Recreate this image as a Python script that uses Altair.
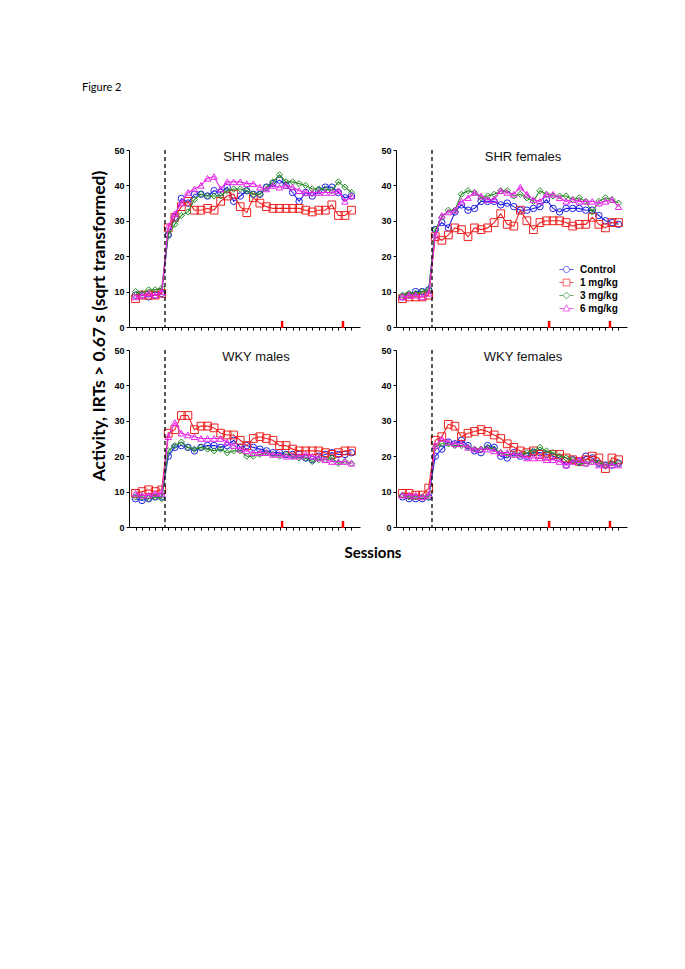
import altair as alt
import pandas as pd

sessions = list(range(1, 35))
series_names = ["Control", "1 mg/kg", "3 mg/kg", "6 mg/kg"]
series_colors = ["#1f1fe6", "#ee2222", "#2a8c2a", "#e825e8"]
series_shapes = ["circle", "square", "diamond", "triangle-up"]
series_sizes = [42, 60, 38, 42]
legend_paths = [
    "M-1.2,0H-0.52M0.52,0H1.2M-0.52,0A0.52,0.52,0,1,1,0.52,0A0.52,0.52,0,1,1,-0.52,0",
    "M-1.2,0H-0.57M0.57,0H1.2M-0.57,-0.57H0.57V0.57H-0.57Z",
    "M-1.2,0H-0.57M0.57,0H1.2M-0.57,0L0,-0.57L0.57,0L0,0.57Z",
    "M-1.2,0H-0.34M0.34,0H1.2M0,-0.62L0.57,0.42H-0.57Z",
]
panel_titles = ["SHR males", "SHR females", "WKY males", "WKY females"]
phase_change = [5.5]
marker_sessions = [23.4, 32.7]
y_ticks = [0, 10, 20, 30, 40, 50]

# SHR males
shr_m_control = [9, 9, 8.5, 9, 9.5, 26, 31, 36.3, 35, 37.5, 37.5, 37, 38.5, 38, 39.5, 35.5, 37, 38.5,
                 37.5, 37.5, 39.5, 40.5, 41.5, 40, 38, 35.5, 38, 37, 38.5, 39.5, 39.5, 38, 36.5, 37]
shr_m_1 = [8, 9, 9, 9, 9.5, 28, 31, 34, 35.5, 33, 33, 33.5, 33, 35.5, 37, 37.5, 34, 32.3,
           36.5, 35, 34, 33.5, 33.5, 33.5, 33.5, 33.5, 33, 32.5, 33, 33, 34.5, 31.5, 31.5, 33]
shr_m_3 = [10, 9.5, 10.5, 10.5, 11, 26, 29, 31.5, 32.5, 36, 37.5, 37, 37, 37, 38.5, 39, 39, 38.5,
           37.5, 37.5, 39.5, 41, 43, 41, 41, 40.5, 40, 39, 39, 39, 38.5, 41, 39.5, 38]
shr_m_6 = [8.5, 9, 9.5, 9, 10, 28.5, 32, 35, 38, 39, 40, 42, 42.5, 39, 41, 41, 41, 40.5,
           40.5, 39.5, 39, 40, 39.5, 40, 39.5, 38.5, 38, 38, 38, 38, 38, 38.5, 35.5, 37]

# SHR females
shr_f_control = [8.5, 9, 10, 10, 10.5, 27.5, 29.5, 28, 32.5, 34.5, 33, 33.5, 35.5, 35.5, 35.5, 34.5,
                 35, 34, 33, 33, 33.5, 34, 36, 33.5, 32.5, 33.5, 33.5, 33.5, 33, 33, 31.5, 30, 29.5, 29]
shr_f_1 = [8, 8.5, 8.5, 8.5, 9, 25.5, 24.5, 26, 28, 27.5, 25.5, 28, 27.5, 28, 29.5, 32, 29, 28.5,
           33, 30, 27.5, 29.5, 30, 30, 30, 29.5, 28.5, 29, 29, 31, 29, 28, 29.5, 29.5]
shr_f_3 = [9, 9.5, 9.5, 10, 10.5, 27.5, 31, 33, 33, 37.5, 38.5, 38, 36.5, 37, 37.5, 38.5, 38.5, 37,
           37.5, 36.5, 35.5, 38.5, 37.5, 37, 37, 37, 36, 36.5, 35.5, 32.5, 35.5, 36.5, 36, 35]
shr_f_6 = [8.5, 9, 9, 8.5, 9.5, 26, 31.5, 32.5, 33, 35.5, 36.5, 38, 37, 36, 36, 38.5, 38, 37.5,
           39.5, 37.5, 36, 35.5, 37.5, 37.5, 36.5, 35.5, 36, 35.5, 35.5, 35.5, 35, 35.5, 36, 34]

# WKY males
wky_m_control = [8, 7.5, 8, 8.5, 8.5, 20, 22.5, 23, 22.5, 21.5, 22.5, 23, 23, 22.5, 23, 24.5, 22.5, 23,
                 22.5, 22, 21.5, 21, 21, 20.5, 20.5, 20.5, 19.5, 19, 20, 20.5, 21, 20.5, 20.5, 21]
wky_m_1 = [9.5, 10, 10.5, 10, 10.5, 26.5, 27.5, 31.5, 31.5, 27.5, 28.5, 28.5, 28, 26.5, 26, 26, 24.5, 23,
           25, 25.5, 25, 24.5, 23, 23, 22, 21.5, 21.5, 21.5, 21.5, 21, 20.5, 21, 21.5, 21.5]
wky_m_3 = [8.5, 8.5, 8, 8.5, 8, 21.5, 23, 24, 22.5, 22, 22.5, 22, 21.5, 22, 21, 21.5, 21.5, 20,
           20, 20.5, 21, 20.5, 20, 20.5, 20, 19.5, 19.5, 18.5, 19, 19, 19.5, 18, 18.5, 18]
wky_m_6 = [9.5, 9, 9, 9.5, 9.5, 25.5, 29.5, 26.5, 26, 25.5, 25, 25, 25, 25, 24, 23, 22, 21.5,
           21, 21, 21, 20.5, 20.5, 20, 20, 20, 20.5, 20, 19.5, 19, 18.5, 18.5, 18.5, 18]

# WKY females
wky_f_control = [8.5, 8, 8, 8, 8.5, 20, 22, 24, 23.5, 24.5, 23, 21.5, 21, 23, 22.5, 20, 19.5, 21,
                 20, 20, 21, 21, 20.5, 20, 19.5, 17.5, 19, 18.5, 20, 19.5, 18, 17.5, 17.5, 18]
wky_f_1 = [9.5, 9.5, 9, 9, 11, 24.5, 25.5, 29, 28.5, 25.5, 26.5, 27, 27.5, 27, 26, 25, 23.5, 22.5,
           21.5, 21, 21.5, 20.5, 20, 20.5, 20.5, 19.5, 19, 18.5, 19, 20, 19.5, 16.5, 19.5, 19]
wky_f_3 = [9, 8.5, 8.5, 8.5, 8.5, 22.5, 23.5, 23.5, 23, 23, 22.5, 22, 22, 22.5, 22, 21, 20.5, 20.5,
           20.5, 21, 21.5, 22.5, 21.5, 21, 20, 19.5, 19, 18, 18, 18.5, 18, 17.5, 18, 18]
wky_f_6 = [9, 9, 9, 8.5, 9, 23, 25, 24, 23.5, 23.5, 22.5, 22, 22, 22, 21.5, 21, 21, 20.5,
           20.5, 19.5, 19.5, 19.5, 19, 19, 18.5, 17.5, 18.5, 19, 18, 18.5, 17.5, 17.5, 17.5, 17.5]

panel_data = [
    [shr_m_control, shr_m_1, shr_m_3, shr_m_6],
    [shr_f_control, shr_f_1, shr_f_3, shr_f_6],
    [wky_m_control, wky_m_1, wky_m_3, wky_m_6],
    [wky_f_control, wky_f_1, wky_f_3, wky_f_6],
]

W, H = 231, 177

x_enc = alt.X("session:Q",
              scale=alt.Scale(domain=[0, 35.3], nice=False, zero=False),
              axis=alt.Axis(values=sessions, labels=False, title=None, tickSize=3, grid=False,
                            domainColor="black", tickColor="black", domainWidth=1, tickWidth=1))
y_enc = alt.Y("value:Q",
              scale=alt.Scale(domain=[0, 50], nice=False),
              axis=alt.Axis(values=y_ticks, title=None, grid=False, labelFontWeight="bold",
                            labelFontSize=9, labelFont="Liberation Sans", labelColor="black",
                            labelOverlap=False, tickSize=3, labelPadding=2,
                            domainColor="black", tickColor="black"))


def make_panel(idx):
    layers = []
    for i, name in enumerate(series_names):
        d = pd.DataFrame({"session": sessions, "value": panel_data[idx][i]})
        base = alt.Chart(d).encode(x=x_enc, y=y_enc)
        layers.append(base.mark_line(color=series_colors[i], strokeWidth=1.1))
        layers.append(base.mark_point(shape=series_shapes[i], filled=False, color=series_colors[i],
                                      size=series_sizes[i], strokeWidth=1, opacity=1))
    dash = alt.Chart(pd.DataFrame({"session": phase_change})).mark_rule(
        color="black", strokeDash=[4, 3], strokeWidth=1.3).encode(x=x_enc)
    red = alt.Chart(pd.DataFrame({"session": marker_sessions})).mark_rule(
        color="#ff0000", strokeWidth=2.5).encode(x=x_enc, y=alt.value(H - 6), y2=alt.value(H + 1))
    title = alt.Chart(pd.DataFrame({"t": [panel_titles[idx]]})).mark_text(
        font="Liberation Sans", fontSize=13, color="#111111").encode(
        text="t:N", x=alt.value(127), y=alt.value(7))
    layers += [dash, red, title]

    if idx == 0:
        fig = alt.Chart(pd.DataFrame({"t": ["Figure 2"]})).mark_text(
            font="Lato", fontSize=11, align="left", color="black").encode(
            text="t:N", x=alt.value(-47), y=alt.value(-62))
        ytitle = alt.Chart(pd.DataFrame({"t": ["Activity, IRTs > 0.67 s (sqrt transformed)"]})).mark_text(
            font="Lato", fontSize=17.5, fontWeight="bold", angle=270, color="black").encode(
            text="t:N", x=alt.value(-29), y=alt.value(176))
        layers += [fig, ytitle]
    if idx == 2:
        xt = alt.Chart(pd.DataFrame({"t": ["Sessions"]})).mark_text(
            font="Lato", fontSize=15, fontWeight="bold", color="black").encode(
            text="t:N", x=alt.value(244), y=alt.value(203))
        layers.append(xt)
    if idx == 1:
        leg = alt.Legend(orient="none", legendX=431, legendY=113, title=None, symbolSize=140,
                         labelFont="Liberation Sans", labelFontSize=10, labelFontWeight="bold",
                         labelColor="black", labelOffset=7, rowPadding=1, padding=0,
                         symbolStrokeWidth=1)
        ld = pd.DataFrame({"series": series_names, "session": [1] * 4, "value": [0] * 4})
        legend_layer = alt.Chart(ld).transform_filter("false").mark_point(filled=False, strokeWidth=1).encode(
            x=x_enc, y=y_enc,
            color=alt.Color("series:N", scale=alt.Scale(domain=series_names, range=series_colors), legend=leg),
            shape=alt.Shape("series:N", scale=alt.Scale(domain=series_names, range=legend_paths), legend=leg),
        )
        layers.append(legend_layer)
    return alt.layer(*layers).properties(width=W, height=H)


panels = [make_panel(i) for i in range(4)]

chart = alt.concat(*panels, columns=2, spacing={"row": 23, "column": 36}, bounds="flush").properties(
    padding={"left": 74, "top": 74, "right": 10, "bottom": 10}
).configure_view(stroke=None)

chart.save("out.html", embed_options={"renderer": "svg", "actions": False})
